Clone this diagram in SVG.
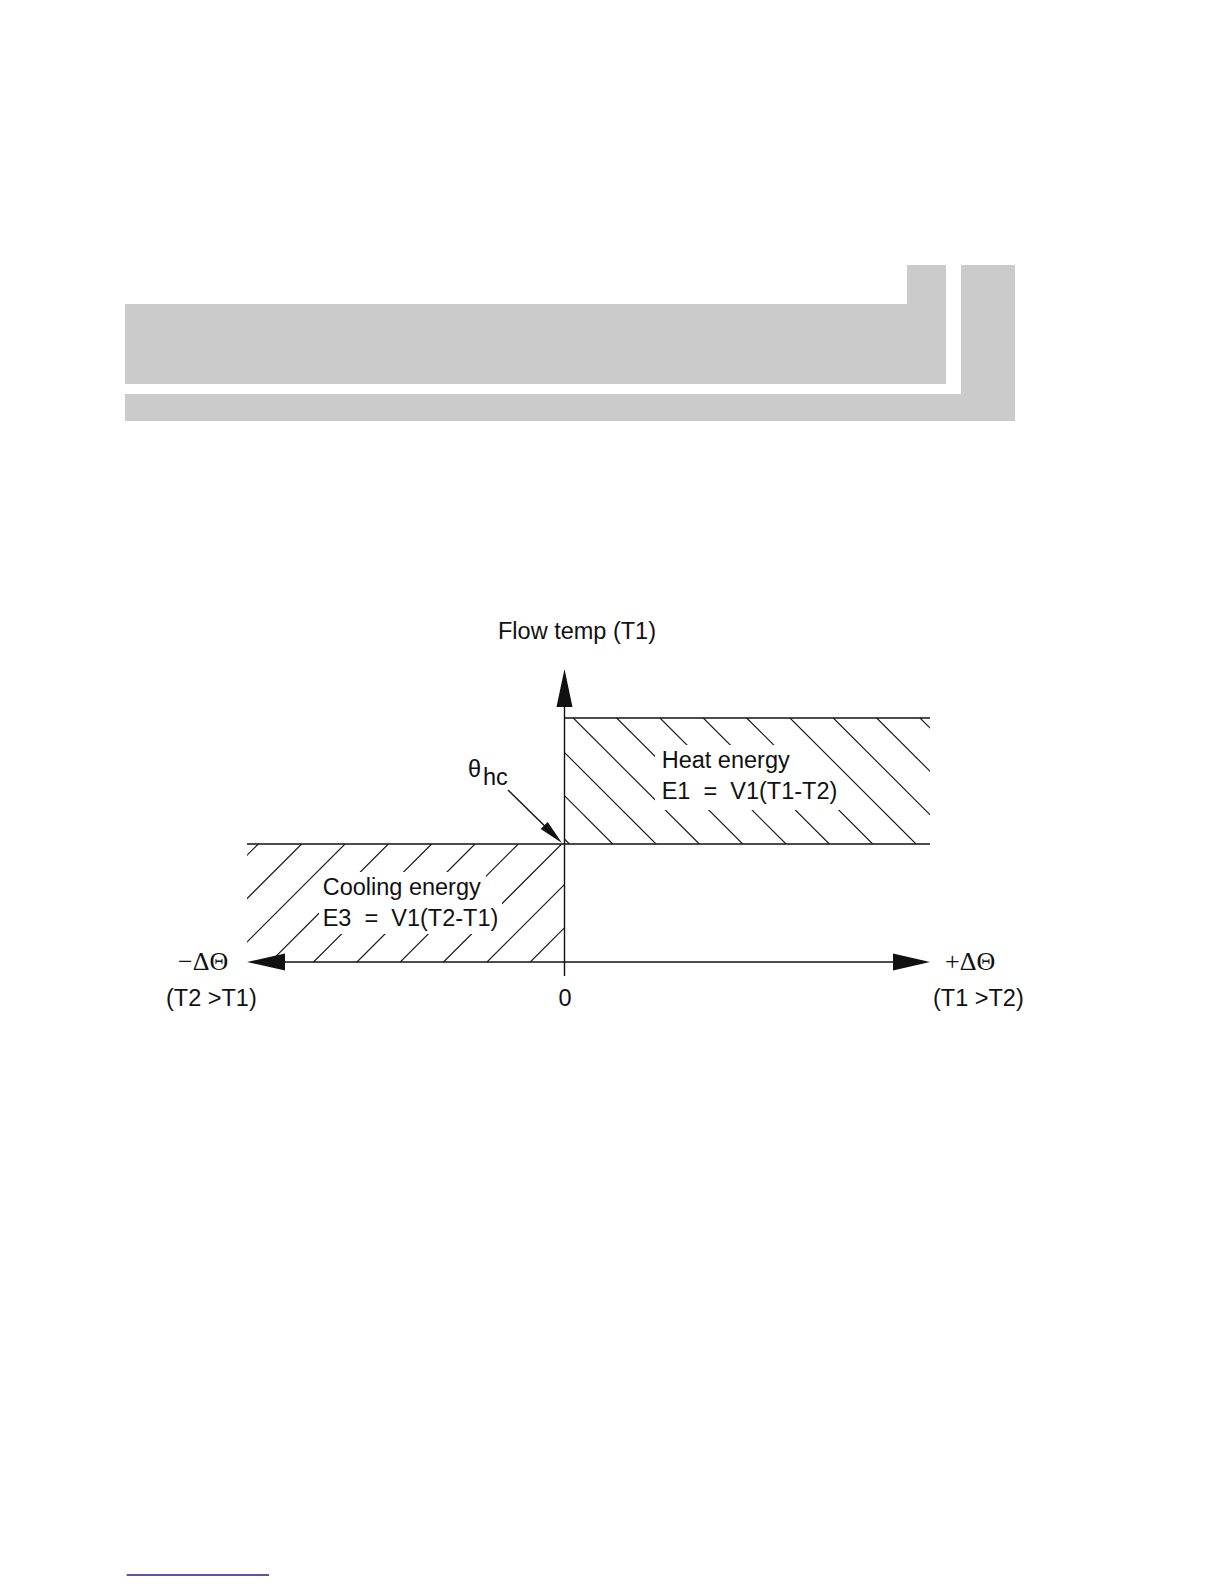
<svg xmlns="http://www.w3.org/2000/svg" width="1224" height="1584" viewBox="0 0 1224 1584">
  <style>
    .lbl { font-family: "Liberation Sans", Arial, sans-serif; font-size: 23.5px; fill: #111; white-space: pre; }
    .sym { font-family: "Liberation Serif", "Times New Roman", serif; font-size: 26px; fill: #111; }
    .ln { stroke: #111; stroke-width: 1.4; fill: none; }
    .hatch line { stroke: #111; stroke-width: 1.1; }
    .band { fill: #cbcbcb; }
  </style>
  <defs>
    <clipPath id="clipHeat"><rect x="564.5" y="718" width="365.5" height="126"/></clipPath>
    <clipPath id="clipCool"><rect x="247" y="844" width="317.5" height="118"/></clipPath>
    <mask id="maskHeat" maskUnits="userSpaceOnUse" x="0" y="0" width="1224" height="1584">
      <rect x="0" y="0" width="1224" height="1584" fill="#fff"/>
      <rect x="655" y="745" width="153" height="31" fill="#000"/>
      <rect x="655" y="776" width="187" height="34" fill="#000"/>
    </mask>
    <mask id="maskCool" maskUnits="userSpaceOnUse" x="0" y="0" width="1224" height="1584">
      <rect x="0" y="0" width="1224" height="1584" fill="#fff"/>
      <rect x="319" y="872" width="167" height="30" fill="#000"/>
      <rect x="319" y="902" width="183" height="32" fill="#000"/>
    </mask>
  </defs>

  <g id="header-band">
    <path class="band" d="M125,304 H907 V265 H946 V384 H125 Z"/>
    <path class="band" d="M961,265 H1015 V421 H125 V394 H961 Z"/>
  </g>

  <g id="heat-region">
    <g class="hatch" clip-path="url(#clipHeat)">
      <g mask="url(#maskHeat)">
        <line x1="443.4" y1="718" x2="569.4" y2="844"/>
        <line x1="486.7" y1="718" x2="612.7" y2="844"/>
        <line x1="530" y1="718" x2="656" y2="844"/>
        <line x1="573.3" y1="718" x2="699.3" y2="844"/>
        <line x1="616.7" y1="718" x2="742.7" y2="844"/>
        <line x1="660" y1="718" x2="786" y2="844"/>
        <line x1="703.3" y1="718" x2="829.3" y2="844"/>
        <line x1="746.7" y1="718" x2="872.7" y2="844"/>
        <line x1="790" y1="718" x2="916" y2="844"/>
        <line x1="833.3" y1="718" x2="959.3" y2="844"/>
        <line x1="876.7" y1="718" x2="1002.7" y2="844"/>
        <line x1="920" y1="718" x2="1046" y2="844"/>
      </g>
    </g>
    <line class="ln" x1="564.5" y1="718" x2="930" y2="718"/>
    <text class="lbl" x="661.7" y="768">Heat energy</text>
    <text class="lbl" x="661.7" y="799">E1  =  V1(T1-T2)</text>
  </g>

  <g id="cooling-region">
    <g class="hatch" clip-path="url(#clipCool)">
      <g mask="url(#maskCool)">
        <line x1="258.3" y1="844" x2="140.3" y2="962"/>
        <line x1="301.6" y1="844" x2="183.6" y2="962"/>
        <line x1="345" y1="844" x2="227" y2="962"/>
        <line x1="388.3" y1="844" x2="270.3" y2="962"/>
        <line x1="431.6" y1="844" x2="313.6" y2="962"/>
        <line x1="475" y1="844" x2="357" y2="962"/>
        <line x1="518.3" y1="844" x2="400.3" y2="962"/>
        <line x1="561.6" y1="844" x2="443.6" y2="962"/>
        <line x1="605" y1="844" x2="487" y2="962"/>
        <line x1="648.3" y1="844" x2="530.3" y2="962"/>
      </g>
    </g>
    <line class="ln" x1="247" y1="844" x2="930" y2="844"/>
    <text class="lbl" x="322.7" y="895">Cooling energy</text>
    <text class="lbl" x="322.7" y="926">E3  =  V1(T2-T1)</text>
  </g>

  <g id="connectors">
    <line class="ln" x1="564.5" y1="700" x2="564.5" y2="976"/>
    <polygon points="564.5,669 556.5,707 572.5,707" fill="#111"/>
    <line class="ln" x1="280" y1="962" x2="898" y2="962"/>
    <polygon points="247,962 285,953.5 285,970.5" fill="#111"/>
    <polygon points="930,962 893,953.5 893,970.5" fill="#111"/>
    <line class="ln" x1="508" y1="790" x2="546" y2="827.3"/>
    <polygon points="562,843 540.7,829.1 547.7,821.9" fill="#111"/>
  </g>

  <g id="axis-labels">
    <text class="lbl" x="498" y="639">Flow temp (T1)</text>
    <text class="lbl" x="468" y="777">θ<tspan x="483" y="785">hc</tspan></text>
    <text class="sym" x="178" y="970">−ΔΘ</text>
    <text class="sym" x="945" y="970">+ΔΘ</text>
    <text class="lbl" x="166" y="1006">(T2 &gt;T1)</text>
    <text class="lbl" x="558.5" y="1006">0</text>
    <text class="lbl" x="933" y="1006">(T1 &gt;T2)</text>
  </g>

  <line id="footer-rule" x1="126.7" y1="1575" x2="269" y2="1575" stroke="#1c1c8c" stroke-width="1.6"/>
</svg>
